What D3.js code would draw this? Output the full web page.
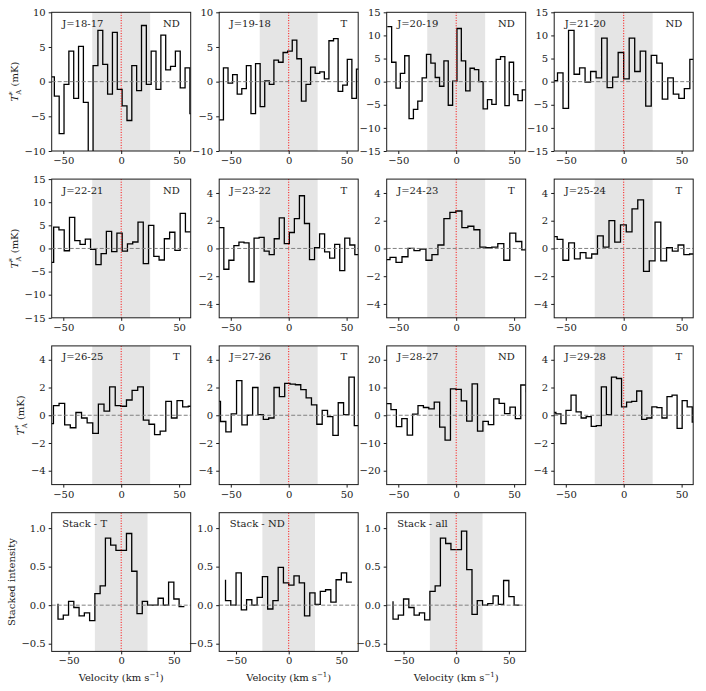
<!DOCTYPE html>
<html>
<head>
<meta charset="utf-8">
<script src="https://cdn.jsdelivr.net/npm/d3@7"></script>
<style>
  body { margin: 0; background: #fff; }
  svg text { font-family: 'DejaVu Serif', serif; fill: #1a1a1a; }
</style>
</head>
<body>
<div id="chart"></div>
<script>
// transitions, one panel each
const lineNames = ["J=18-17", "J=19-18", "J=20-19", "J=21-20",
                   "J=22-21", "J=23-22", "J=24-23", "J=25-24",
                   "J=26-25", "J=27-26", "J=28-27", "J=29-28"];
const detection = ["ND", "T", "ND", "ND", "ND", "T", "T", "T", "T", "T", "ND", "T"];

// y limits and ticks (mK)
const yLimits = [10, 10, 15, 15, 15, 5, 5, 5, 5, 5, 25, 5];
const yTicks = [
  [-10, -5, 0, 5, 10], [-10, -5, 0, 5, 10], [-15, -10, -5, 0, 5, 10, 15], [-15, -10, -5, 0, 5, 10, 15],
  [-15, -10, -5, 0, 5, 10, 15], [-4, -2, 0, 2, 4], [-4, -2, 0, 2, 4], [-4, -2, 0, 2, 4],
  [-4, -2, 0, 2, 4], [-4, -2, 0, 2, 4], [-20, -10, 0, 10, 20], [-4, -2, 0, 2, 4]
];
const xTicks = [-50, 0, 50];

// channel grid: left edge of first channel and channel width (km/s)
const chanStart = [-61.9, -60.3, -59.5, -61.9, -62.85, -60.35, -62.3, -62.4, -63.35, -63.5, -61.0, -62.9];
const chanWidth = [4.18, 3.96, 3.76, 4.76, 4.55, 4.35, 5.17, 4.97, 4.85, 4.62, 4.67, 4.36];

// antenna temperature per channel (mK)
const spectra = [
  [0.7, -2.1, -7.5, -0.4, 4.4, -2.4, 5.1, -3.0, -12, 2.3, 7.4, 2.5, -1.8, 7.1, -1.1, -3.5, -5.6, 2.3, -1.3, 8.1, -0.4, 4.4, -1.1, 6.7, 1.7, 2.2, 4.4, -0.9, 2.0, -4.6],
  [-5.5, 2.0, -0.2, 1.0, -1.8, -1.0, 2.3, -4.6, 2.6, -3.6, 0.1, -0.4, 3.1, 2.8, 4.2, 4.4, 6.0, 3.3, -2.8, -0.4, 2.1, 1.2, 1.4, 0.4, 5.9, 6.2, -1.4, -0.5, 3.2, -2.4, 1.8],
  [11.9, 4.2, -1.4, 1.8, 5.6, -8.0, -6.0, -4.2, 0.8, 5.9, 4.0, 0.9, -1.0, 4.5, -5.1, 0.1, 11.5, 4.5, -2.0, 2.9, 2.6, 0.0, -5.9, -3.9, -4.9, 4.8, 5.4, -5.2, 4.2, -2.8, -4.1, -1.8],
  [0.2, 1.9, -5.8, 11.1, 1.6, 3.0, -0.1, 2.2, 0.8, 9.4, -1.3, 1.0, 6.3, 0.6, 9.4, 2.2, 6.6, -5.3, 5.7, 4.0, -3.8, 0.8, -2.7, -3.6, -1.5, 4.8],
  [-3.0, 4.6, 4.0, -0.5, 6.7, 1.7, 0.9, 2.0, -0.2, -3.5, -1.1, 3.7, -0.7, 3.3, -0.6, 1.0, 1.4, 5.7, -3.3, 5.0, -1.7, -2.5, 2.1, 3.5, -0.4, 7.6, 3.6],
  [1.5, -1.5, -0.85, 0.2, 0.45, 0.4, -2.4, 0.75, 0.8, -0.2, -0.45, 0.7, 2.2, 0.35, 1.15, 2.15, 3.8, 1.8, -0.8, 0.05, 1.05, -0.25, -0.7, 0.3, -1.6, 0.75, 0.25, -0.45],
  [-0.8, -0.65, -1.0, -0.6, 0.0, -0.15, -0.05, -0.85, -0.45, 0.25, 2.15, 2.6, 2.7, 1.5, 1.6, 1.35, 0.1, 0.05, 0.1, 0.35, -0.85, 1.1, 0.5, -0.1],
  [0.85, 0.65, -0.85, 0.4, -0.75, -0.3, -0.7, -0.4, 0.9, 0.1, 2.0, 0.45, 1.7, 1.2, 2.85, 3.5, -1.65, -0.9, 1.9, -0.9, 0.05, -0.2, 0.25, -0.45, -0.4],
  [-0.6, 0.7, 0.85, -0.7, -0.9, 0.2, -0.2, -0.55, -1.3, 0.8, 0.3, 2.05, 0.7, 0.65, 1.1, 1.8, 2.05, -0.35, -0.65, -1.4, -1.15, 1.0, -0.2, 1.05, 0.6, 0.65],
  [1.0, -0.45, -1.2, 0.1, 2.5, -0.7, 0.0, 2.0, 0.05, -0.3, -0.2, 2.0, 1.35, 2.3, 2.25, 2.2, 1.85, 1.25, 0.75, -0.65, 0.35, -0.1, -1.45, 0.9, 0.05, 2.75, -0.75],
  [4.2, 2.0, -4.1, -1.2, -7.2, 0.4, 3.5, 2.8, 2.3, 4.7, -4.3, -9.0, 9.5, 9.3, 5.2, -2.1, 11.3, -5.7, -2.2, -3.4, 5.9, 4.3, 0.6, 2.9, -1.2, 10.9, 8.5],
  [0.2, 0.1, -0.6, 0.35, 1.45, 0.25, -0.2, -0.1, -0.8, -0.75, 2.05, 0.05, 2.75, 2.65, 0.6, 0.95, 1.0, 1.75, -0.3, -0.2, 0.6, 0.55, -0.2, 1.35, 1.45, -0.95, 1.05, 0.6, -0.5]
];

// stacked spectra, sampled every 5 km/s from -60 to 60 (step drawn "pre")
const stackNames = ["Stack - T", "Stack - ND", "Stack - all"];
const stackVelocity = [-60, -55, -50, -45, -40, -35, -30, -25, -20, -15, -10, -5, 0, 5, 10, 15, 20, 25, 30, 35, 40, 45, 50, 55, 60];
const stackT = [0.02, -0.18, -0.13, 0.05, -0.03, -0.14, -0.1, -0.2, 0.15, 0.25, 0.87, 0.78, 0.71, 0.71, 0.93, 0.44, -0.11, 0.05, 0.0, 0.0, 0.09, 0.0, 0.3, 0.08, -0.02];
const stackND = [0.33, 0.06, 0.0, 0.42, -0.06, 0.07, 0.0, 0.1, 0.37, -0.05, 0.06, 0.49, 0.29, 0.26, 0.38, 0.29, -0.14, 0.16, 0.01, 0.18, 0.2, 0.04, 0.33, 0.42, 0.3];
const stackAll = [0.05, -0.18, -0.13, 0.08, -0.03, -0.13, -0.1, -0.19, 0.18, 0.25, 0.87, 0.8, 0.72, 0.72, 0.96, 0.46, -0.12, 0.06, 0.0, 0.02, 0.12, 0.01, 0.32, 0.11, 0.0];
const stackTicks = [-0.5, 0.0, 0.5, 1.0];

const W = 706, H = 691;
const pw = 139, ph = 138.7;
const left0 = 51.7, top0 = 12.3, stepX = 167.5, stepY = 166.8;

const svg = d3.select("#chart").append("svg")
  .attr("width", W).attr("height", H);

function drawPanel(idx, row, col, cfg) {
  const g = svg.append("g")
    .attr("transform", `translate(${left0 + col * stepX},${top0 + row * stepY})`);

  const x = d3.scaleLinear().domain(cfg.xDomain).range([0, pw]);
  const y = d3.scaleLinear().domain(cfg.yDomain).range([ph, 0]);

  const clipId = "clip" + idx;
  g.append("clipPath").attr("id", clipId)
    .append("rect").attr("width", pw).attr("height", ph);
  const inner = g.append("g").attr("clip-path", `url(#${clipId})`);

  // shaded line window
  inner.append("rect")
    .attr("x", x(-25)).attr("y", 0)
    .attr("width", x(25) - x(-25)).attr("height", ph)
    .attr("fill", "#e5e5e5");

  const line = d3.line().x(d => x(d[0])).y(d => y(d[1])).curve(cfg.curve);
  inner.append("path")
    .datum(cfg.points)
    .attr("d", line)
    .attr("fill", "none")
    .attr("stroke", "#000")
    .attr("stroke-width", 1.3);

  inner.append("line")
    .attr("x1", 0).attr("x2", pw).attr("y1", y(0)).attr("y2", y(0))
    .attr("stroke", "#808080").attr("stroke-width", 1)
    .attr("stroke-dasharray", "4,2");

  inner.append("line")
    .attr("x1", x(0)).attr("x2", x(0)).attr("y1", 0).attr("y2", ph)
    .attr("stroke", "red").attr("stroke-width", 1)
    .attr("stroke-dasharray", "1,1.6");

  const xAxis = g.append("g")
    .attr("transform", `translate(0,${ph})`)
    .call(d3.axisBottom(x).tickValues(xTicks).tickSize(3).tickPadding(3));
  const yAxis = g.append("g")
    .call(d3.axisLeft(y).tickValues(cfg.yTicks).tickSize(3).tickPadding(3)
      .tickFormat(cfg.tickFormat));
  [xAxis, yAxis].forEach(a => {
    a.select(".domain").remove();
    a.selectAll(".tick line").attr("stroke", "#1a1a1a");
    a.selectAll("text").style("font-family", "'DejaVu Serif', serif")
      .style("font-size", "10px").attr("fill", "#1a1a1a");
  });

  g.append("rect")
    .attr("width", pw).attr("height", ph)
    .attr("fill", "none").attr("stroke", "#1a1a1a").attr("stroke-width", 1);

  g.append("text")
    .attr("x", 10.5).attr("y", 14.5)
    .style("font-size", "10px")
    .text(cfg.name);

  if (cfg.flag) {
    g.append("text")
      .attr("x", pw - 11).attr("y", 14.5)
      .attr("text-anchor", "end")
      .style("font-size", "10px")
      .text(cfg.flag);
  }

  if (col === 0) {
    const bb = yAxis.node().getBBox();
    const lx = bb.x - 6.5;
    const t = g.append("text")
      .attr("transform", `translate(${lx},${ph / 2}) rotate(-90)`)
      .attr("text-anchor", "middle")
      .style("font-size", "10px");
    if (cfg.stack) {
      t.text("Stacked intensity");
    } else {
      t.append("tspan").style("font-style", "italic").text("T");
      t.append("tspan").attr("dy", -4).style("font-size", "7px").text("*");
      t.append("tspan").attr("dx", -3.3).attr("dy", 7).style("font-size", "7px").text("A");
      t.append("tspan").attr("dy", -3).text(" (mK)");
    }
  }

  if (cfg.stack) {
    const t = g.append("text")
      .attr("x", pw / 2).attr("y", ph + 30)
      .attr("text-anchor", "middle")
      .style("font-size", "10px");
    t.append("tspan").text("Velocity (km s");
    t.append("tspan").attr("dy", -4).style("font-size", "7px").text("\u22121");
    t.append("tspan").attr("dy", 4).text(")");
  }
}

spectra.forEach((vals, i) => {
  const pts = vals.map((v, k) => [chanStart[i] + k * chanWidth[i], v]);
  pts.push([chanStart[i] + vals.length * chanWidth[i], vals[vals.length - 1]]);
  drawPanel(i, Math.floor(i / 4), i % 4, {
    name: lineNames[i],
    flag: detection[i],
    xDomain: [-60, 60],
    yDomain: [-yLimits[i], yLimits[i]],
    yTicks: yTicks[i],
    tickFormat: d3.format("d"),
    points: pts,
    curve: d3.curveStepAfter,
    stack: false
  });
});

[stackT, stackND, stackAll].forEach((vals, j) => {
  drawPanel(12 + j, 3, j, {
    name: stackNames[j],
    flag: null,
    xDomain: [-66, 66],
    yDomain: [-0.6, 1.2],
    yTicks: stackTicks,
    tickFormat: d3.format(".1f"),
    points: vals.map((v, k) => [stackVelocity[k], v]),
    curve: d3.curveStepBefore,
    stack: true
  });
});
</script>
</body>
</html>
